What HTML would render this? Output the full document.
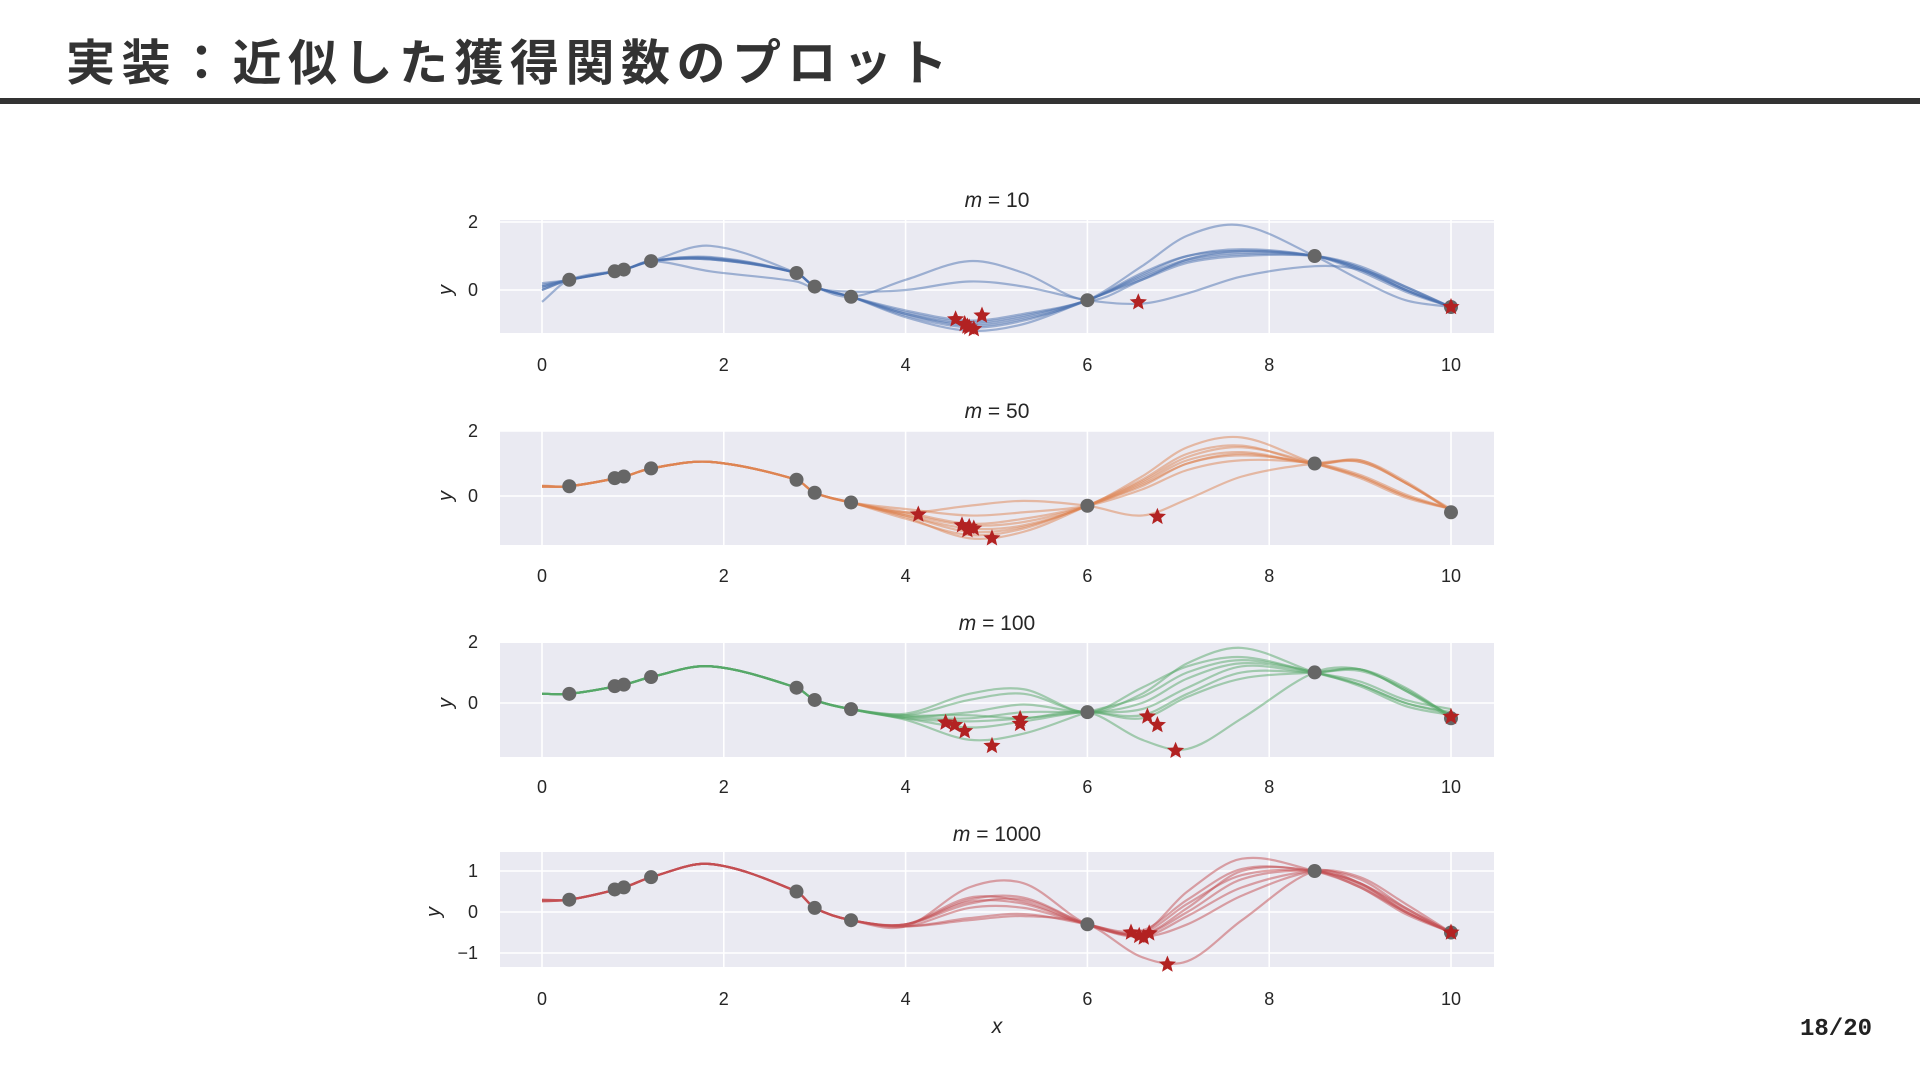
<!DOCTYPE html>
<html><head><meta charset="utf-8">
<style>
html,body{margin:0;padding:0;background:#fff;}
body{width:1920px;height:1080px;position:relative;overflow:hidden;font-family:"Liberation Sans","Noto Sans CJK JP",sans-serif;}
#title{position:absolute;left:66px;top:24px;font-size:49px;font-weight:bold;color:#333;letter-spacing:6.5px;white-space:nowrap;font-family:"Liberation Sans","Noto Sans CJK JP",sans-serif;}
#bar{position:absolute;left:0;top:98px;width:1920px;height:6px;background:#333;}
#pg{position:absolute;left:1800px;top:1016px;font-size:24px;font-weight:bold;color:#222;font-family:"Liberation Mono",monospace;}
svg{position:absolute;left:0;top:0;}
</style></head>
<body>
<div id="title">実装：近似した獲得関数のプロット</div>
<div id="bar"></div>
<div id="pg">18/20</div>
<svg id="chart" width="1920" height="1080"></svg>
<script>
const knotX = [0,0.3,0.9,1.2,1.85,2.8,3.0,3.4,4.0,4.7,5.3,6.0,6.6,7.1,7.7,8.5,9.0,9.5,10];
const obsX = [0.3,0.8,0.9,1.2,2.8,3.0,3.4,6.0,8.5,10];
const obsY = [0.3,0.55,0.6,0.85,0.5,0.1,-0.2,-0.3,1.0,-0.5];
const xTicks = [0,2,4,6,8,10];
const mLabels = ["10","50","100","1000"];
const colors = ["#4c72b0","#dd8452","#55a868","#c44e52"];

const curves1 = [
[0.15,0.3,0.6,0.85,0.95,0.5,0.1,-0.2,-0.7,-1.0,-0.8,-0.3,0.4,0.9,1.1,1.0,0.6,0.0,-0.5],
[0.0,0.3,0.6,0.85,0.9,0.5,0.1,-0.2,-0.75,-1.1,-0.9,-0.3,0.35,0.85,1.05,1.0,0.65,0.05,-0.5],
[0.2,0.3,0.6,0.85,0.97,0.5,0.1,-0.2,-0.65,-0.95,-0.75,-0.3,0.45,1.0,1.2,1.0,0.55,-0.05,-0.5],
[-0.35,0.3,0.6,0.85,0.9,0.5,0.1,-0.2,-0.8,-1.2,-1.0,-0.3,0.3,0.8,1.0,1.0,0.7,0.1,-0.5],
[0.1,0.3,0.6,0.85,1.3,0.5,0.1,-0.2,0.3,0.85,0.5,-0.3,0.3,0.9,1.15,1.0,0.6,0.0,-0.5],
[0.1,0.3,0.6,0.85,0.55,0.25,0.05,-0.05,0.0,0.25,0.1,-0.3,-0.4,-0.1,0.4,0.7,0.6,0.1,-0.5],
[0.0,0.3,0.6,0.85,0.92,0.5,0.1,-0.2,-0.7,-1.05,-0.85,-0.3,0.7,1.6,1.9,1.0,0.3,-0.3,-0.5],
[0.05,0.3,0.6,0.85,0.93,0.5,0.1,-0.2,-0.6,-0.9,-0.7,-0.3,0.5,1.0,1.15,1.0,0.65,0.0,-0.5]
];
const curves2 = [
[0.3,0.3,0.6,0.85,1.05,0.5,0.1,-0.2,-0.6,-1.0,-0.9,-0.3,0.6,1.5,1.8,1.0,0.6,0.0,-0.4],
[0.3,0.3,0.6,0.85,1.05,0.5,0.1,-0.2,-0.55,-0.9,-0.8,-0.3,0.4,1.1,1.35,1.0,1.1,0.4,-0.4],
[0.3,0.3,0.6,0.85,1.05,0.5,0.1,-0.2,-0.5,-0.3,-0.15,-0.3,-0.6,-0.1,0.6,1.0,1.05,0.4,-0.45],
[0.28,0.3,0.6,0.85,1.05,0.5,0.1,-0.2,-0.7,-1.2,-1.0,-0.3,0.3,1.0,1.25,1.0,0.6,0.0,-0.4],
[0.3,0.3,0.6,0.85,1.05,0.5,0.1,-0.2,-0.65,-1.3,-1.1,-0.3,0.5,1.3,1.55,1.0,1.1,0.45,-0.45],
[0.32,0.3,0.6,0.85,1.05,0.5,0.1,-0.2,-0.4,-0.6,-0.5,-0.3,0.2,0.8,1.1,1.0,0.65,0.05,-0.4],
[0.3,0.3,0.6,0.85,1.05,0.5,0.1,-0.2,-0.6,-1.1,-0.95,-0.3,0.45,1.2,1.5,1.0,0.55,-0.05,-0.4],
[0.28,0.3,0.6,0.85,1.05,0.5,0.1,-0.2,-0.5,-0.85,-0.7,-0.3,0.35,1.0,1.3,1.0,1.05,0.4,-0.45]
];
const curves3 = [
[0.3,0.3,0.6,0.85,1.2,0.5,0.1,-0.2,-0.45,-0.5,-0.3,-0.3,-0.2,0.5,1.2,1.0,1.1,0.4,-0.4],
[0.3,0.3,0.6,0.85,1.2,0.5,0.1,-0.2,-0.4,0.1,0.3,-0.3,0.3,1.3,1.8,1.0,0.6,0.0,-0.35],
[0.3,0.3,0.6,0.85,1.2,0.5,0.1,-0.2,-0.5,-0.8,-0.6,-0.3,-0.5,0.2,0.8,1.0,1.1,0.5,-0.45],
[0.3,0.3,0.6,0.85,1.2,0.5,0.1,-0.2,-0.55,-1.2,-1.0,-0.3,0.2,1.0,1.4,1.0,0.55,-0.1,-0.4],
[0.3,0.3,0.6,0.85,1.2,0.5,0.1,-0.2,-0.4,-0.4,-0.5,-0.3,-1.2,-1.5,-0.5,1.0,1.1,0.4,-0.5],
[0.3,0.3,0.6,0.85,1.2,0.5,0.1,-0.2,-0.35,0.3,0.45,-0.3,0.5,1.2,1.5,1.0,0.7,0.1,-0.2],
[0.3,0.3,0.6,0.85,1.2,0.5,0.1,-0.2,-0.5,-0.6,-0.5,-0.3,-0.4,0.3,1.0,1.0,1.05,0.45,-0.45],
[0.3,0.3,0.6,0.85,1.2,0.5,0.1,-0.2,-0.45,-0.3,-0.05,-0.3,0.0,0.8,1.3,1.0,0.6,0.0,-0.3]
];
const curves4 = [
[0.28,0.3,0.6,0.85,1.17,0.5,0.1,-0.2,-0.35,0.6,0.7,-0.3,-0.5,0.2,0.9,1.0,0.7,0.0,-0.5],
[0.28,0.3,0.6,0.85,1.17,0.5,0.1,-0.2,-0.3,0.3,0.35,-0.3,-0.6,-0.1,0.6,1.0,0.8,0.1,-0.5],
[0.3,0.3,0.6,0.85,1.17,0.5,0.1,-0.2,-0.35,0.1,0.1,-0.3,-0.55,0.1,1.0,1.0,0.6,0.0,-0.5],
[0.26,0.3,0.6,0.85,1.17,0.5,0.1,-0.2,-0.3,0.35,0.25,-0.3,-0.5,0.5,1.3,1.0,0.6,-0.05,-0.5],
[0.28,0.3,0.6,0.85,1.17,0.5,0.1,-0.2,-0.35,-0.2,-0.1,-0.3,-1.1,-1.2,-0.2,1.0,0.7,0.1,-0.5],
[0.3,0.3,0.6,0.85,1.17,0.5,0.1,-0.2,-0.3,0.2,0.3,-0.3,-0.6,-0.3,0.4,1.0,0.85,0.2,-0.5],
[0.28,0.3,0.6,0.85,1.17,0.5,0.1,-0.2,-0.35,-0.15,-0.05,-0.3,-0.55,0.0,0.8,1.0,0.65,0.0,-0.5],
[0.26,0.3,0.6,0.85,1.17,0.5,0.1,-0.2,-0.3,0.25,0.2,-0.3,-0.45,0.3,1.05,1.0,0.7,0.05,-0.5]
];
const starX1 = [4.55,4.65,4.7,4.75,4.84,4.68,6.56,10];
const starY1 = [-0.86,-1.0,-1.1,-1.15,-0.75,-1.07,-0.36,-0.5];
const starX2 = [4.14,4.62,4.7,4.75,4.68,4.95,6.77];
const starY2 = [-0.57,-0.9,-0.95,-1.0,-1.05,-1.3,-0.64];
const starX3 = [4.44,4.54,4.65,4.95,5.26,5.26,6.66,6.77,6.97,10];
const starY3 = [-0.64,-0.72,-0.92,-1.4,-0.52,-0.68,-0.44,-0.72,-1.56,-0.45];
const starX4 = [6.48,6.57,6.62,6.68,6.88,10];
const starY4 = [-0.5,-0.58,-0.62,-0.52,-1.28,-0.5];
const yTicks1 = [0,2], yTicks2 = [0,2], yTicks3 = [0,2], yTicks4 = [-1,0,1];
const yTickLabels4 = ["\u22121","0","1"];

const NS = "http://www.w3.org/2000/svg";
const svg = document.getElementById("chart");
function mk(tag, attrs, parent){const e=document.createElementNS(NS,tag);for(const k in attrs)e.setAttribute(k,attrs[k]);(parent||svg).appendChild(e);return e;}

const panels = [
 {top:220,bot:333,y0:290,unit:34,curves:curves1,sx:starX1,sy:starY1,yt:yTicks1,ytl:null,tY:200,xlY:364},
 {top:431,bot:545,y0:496,unit:32.5,curves:curves2,sx:starX2,sy:starY2,yt:yTicks2,ytl:null,tY:411,xlY:575},
 {top:643,bot:757,y0:703,unit:30.6,curves:curves3,sx:starX3,sy:starY3,yt:yTicks3,ytl:null,tY:623,xlY:786},
 {top:852,bot:967,y0:912,unit:41,curves:curves4,sx:starX4,sy:starY4,yt:yTicks4,ytl:yTickLabels4,tY:834,xlY:998}
];
const L=500,R=1494;
function xs(v){return 542+v*90.9;}

function splinePath(X,Y,ysf){
  const n=X.length,m=[];
  for(let i=0;i<n;i++){
    if(i===0)m.push((Y[1]-Y[0])/(X[1]-X[0]));
    else if(i===n-1)m.push((Y[n-1]-Y[n-2])/(X[n-1]-X[n-2]));
    else m.push((Y[i+1]-Y[i-1])/(X[i+1]-X[i-1]));
  }
  let d="M"+xs(X[0])+","+ysf(Y[0]);
  for(let i=0;i<n-1;i++){
    const dx=X[i+1]-X[i];
    d+=" C"+xs(X[i]+dx/3)+","+ysf(Y[i]+m[i]*dx/3)+" "+xs(X[i+1]-dx/3)+","+ysf(Y[i+1]-m[i+1]*dx/3)+" "+xs(X[i+1])+","+ysf(Y[i+1]);
  }
  return d;
}
function starPts(cx,cy,r){
  let p=[];for(let i=0;i<10;i++){const a=-Math.PI/2+i*Math.PI/5;const rr=i%2?r*0.45:r;p.push((cx+rr*Math.cos(a)).toFixed(1)+","+(cy+rr*Math.sin(a)).toFixed(1));}
  return p.join(" ");
}

panels.forEach((P,pi)=>{
  const ys=v=>P.y0-v*P.unit;
  const g=mk("g",{});
  
  
  const bg=mk("rect",{x:L,y:P.top,width:R-L,height:P.bot-P.top,fill:"#eaeaf2"},g);
  
  
  const cp=mk("clipPath",{id:"cp"+pi},g);
  mk("rect",{x:L,y:P.top,width:R-L,height:P.bot-P.top},cp);
  xTicks.forEach(t=>{
    const ln=mk("line",{x1:xs(t),x2:xs(t),y1:P.top,y2:P.bot,stroke:"#fff","stroke-width":1.6},g);
    
    
    const tx=mk("text",{x:xs(t),y:P.xlY+7,"text-anchor":"middle","font-size":18,fill:"#262626"},g);
    tx.textContent=t;
    
    
  });
  P.yt.forEach((t,i)=>{
    const ln=mk("line",{x1:L,x2:R,y1:ys(t),y2:ys(t),stroke:"#fff","stroke-width":1.6},g);
    
    
    const tx=mk("text",{x:478,y:ys(t)+6,"text-anchor":"end","font-size":18,fill:"#262626"},g);
    tx.textContent=P.ytl?P.ytl[i]:t;
    
    
  });
  const yl=mk("text",{x:0,y:0,"text-anchor":"middle","font-size":20,"font-style":"italic",fill:"#262626",transform:"translate("+(pi===3?440:452)+","+ys(0)+") rotate(-90)"},g);
  yl.textContent="y";
  
  
  const tt=mk("text",{x:997,y:P.tY+7,"text-anchor":"middle","font-size":21,fill:"#262626"},g);
  tt.innerHTML='<tspan font-style="italic">m</tspan> = '+mLabels[pi];
  
  
  const cg=mk("g",{"clip-path":"url(#cp"+pi+")"},g);
  P.curves.forEach(c=>{
    const p=mk("path",{d:splinePath(knotX,c,ys),fill:"none",stroke:colors[pi],"stroke-width":2.2,"stroke-opacity":0.5},cg);
    
    
  });
  obsX.forEach((x,i)=>{
    const c=mk("circle",{cx:xs(x),cy:ys(obsY[i]),r:7,fill:"#666"},g);
    
    
  });
  P.sx.forEach((x,i)=>{
    const s=mk("polygon",{points:starPts(xs(x),ys(P.sy[i]),9),fill:"#b22222"},g);
    
    
  });
});
const xl=mk("text",{x:997,y:1033,"text-anchor":"middle","font-size":21,"font-style":"italic",fill:"#262626"});
xl.textContent="x";


</script>
</body></html>
